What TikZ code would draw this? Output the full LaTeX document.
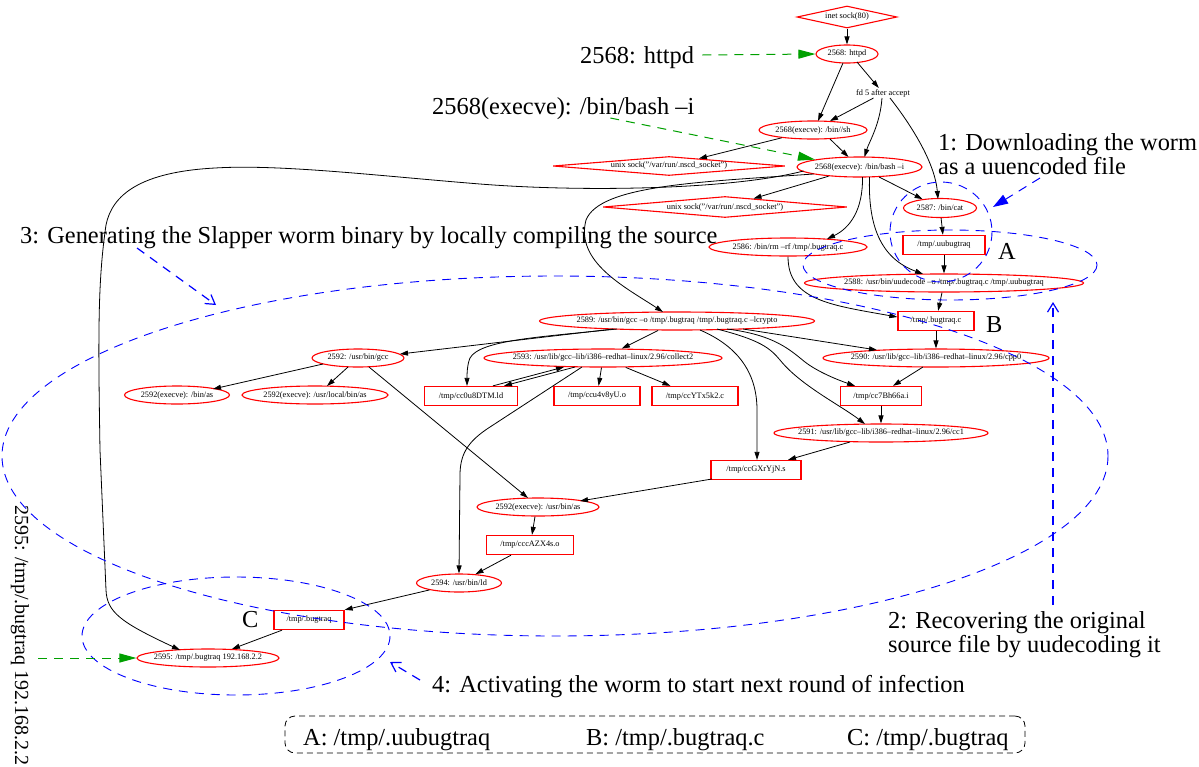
\documentclass[tikz,border=0pt]{standalone}
\usepackage{fontspec}
\setmainfont{Liberation Serif}
\usetikzlibrary{shapes.geometric,arrows.meta,calc}

\newcommand\procfont{\fontsize{8.3}{10}\selectfont}
\newcommand\notefont{\fontsize{24.4}{28}\selectfont}
\newcommand\rotfont{\fontsize{20}{24}\selectfont}
\newcommand\ctr[1]{\makebox[0pt]{#1}}

\definecolor{hintgreen}{RGB}{0,160,0}
\definecolor{markblue}{RGB}{0,0,255}

\tikzset{
  sz/.style 2 args={minimum width=#1pt, minimum height=#2pt},
  proc/.style={ellipse, draw=red, line width=1.1pt, inner sep=0pt, font=\procfont},
  file/.style={rectangle, draw=red, line width=1.3pt, inner sep=0pt, font=\procfont},
  sock/.style={diamond, draw=red, line width=1.1pt, inner sep=0pt, font=\procfont},
  edge/.style={draw=black, line width=0.8pt, -{Triangle[length=8pt,width=5pt]}},
  note/.style={font=\notefont, inner sep=0pt, anchor=base west},
  hint/.style={draw=hintgreen, line width=1pt, dash pattern=on 9pt off 7pt,
    -{Triangle[length=17pt,width=9pt]}},
  region/.style={draw=markblue, line width=0.9pt, dash pattern=on 9pt off 7pt},
  pointer/.style={draw=markblue, line width=1.2pt, dash pattern=on 9pt off 7pt,
    -{Straight Barb[length=9pt,width=11pt]}},
  pointerfull/.style={draw=markblue, line width=1pt, dash pattern=on 9pt off 7pt,
    -{Triangle[length=15pt,width=10pt]}},
}

\begin{document}
\begin{tikzpicture}[x=1pt,y=-1pt]
\useasboundingbox (0,0) rectangle (1199,766);

% ---------------- processes, files and sockets ----------------
\node[sock, sz={100}{22}] (inet) at (847,17) {\ctr{inet sock(80)}};
\node[proc, sz={62}{18}] (httpd) at (847,54) {\ctr{2568: httpd}};
\node[font=\procfont, inner sep=1pt] (fd5) at (883,93) {fd 5 after accept};
\node[proc, sz={108}{18}] (sh) at (813,130) {\ctr{2568(execve): /bin//sh}};
\node[sock, sz={232}{19}] (unixa) at (669,166) {\ctr{unix sock("/var/run/.nscd\_socket")}};
\node[proc, sz={125}{20}] (bash) at (859.5,167) {\ctr{2568(execve): /bin/bash –i}};
\node[sock, sz={244}{21}] (unixb) at (725,207) {\ctr{unix sock("/var/run/.nscd\_socket")}};
\node[proc, sz={73}{19}] (cat) at (940,208) {\ctr{2587: /bin/cat}};
\node[file, sz={82}{19}] (uubug) at (944,245) {\ctr{/tmp/.uubugtraq}};
\node[proc, sz={158}{18}] (rm) at (788,247) {\ctr{2586: /bin/rm –rf /tmp/.bugtraq.c}};
\node[proc, sz={279}{18}] (uud) at (944,283) {\ctr{2588: /usr/bin/uudecode –o /tmp/.bugtraq.c /tmp/.uubugtraq}};
\node[file, sz={76}{19}] (bugc) at (936,321) {\ctr{/tmp/.bugtraq.c}};
\node[proc, sz={275}{18}] (gcc89) at (677,321) {\ctr{2589: /usr/bin/gcc –o /tmp/.bugtraq /tmp/.bugtraq.c –lcrypto}};
\node[proc, sz={92}{18}] (gcc92) at (358,358) {\ctr{2592: /usr/bin/gcc}};
\node[proc, sz={238}{18}] (col) at (603,358) {\ctr{2593: /usr/lib/gcc–lib/i386–redhat–linux/2.96/collect2}};
\node[proc, sz={226}{18}] (cpp) at (936,358) {\ctr{2590: /usr/lib/gcc–lib/i386–redhat–linux/2.96/cpp0}};
\node[proc, sz={105}{18}] (binas) at (177,395) {\ctr{2592(execve): /bin/as}};
\node[proc, sz={146}{18}] (localas) at (315,395) {\ctr{2592(execve): /usr/local/bin/as}};
\node[file, sz={93}{19}] (ccld) at (471,396) {\ctr{/tmp/cc0u8DTM.ld}};
\node[file, sz={86}{19}] (ccuo) at (597,396) {\ctr{/tmp/ccu4v8yU.o}};
\node[file, sz={86}{19}] (ccyc) at (695,396) {\ctr{/tmp/ccYTx5k2.c}};
\node[file, sz={81}{19}] (cci) at (881,396) {\ctr{/tmp/cc7Bh66a.i}};
\node[proc, sz={214}{18}] (cc1) at (881,433) {\ctr{2591: /usr/lib/gcc–lib/i386–redhat–linux/2.96/cc1}};
\node[file, sz={90}{19}] (ccs) at (756,470) {\ctr{/tmp/ccGXrYjN.s}};
\node[proc, sz={122}{18}] (usras) at (538,507) {\ctr{2592(execve): /usr/bin/as}};
\node[file, sz={87}{19}] (cco) at (530,545) {\ctr{/tmp/cccAZX4s.o}};
\node[proc, sz={85}{18}] (ld) at (459,583) {\ctr{2594: /usr/bin/ld}};
\node[file, sz={70}{19}] (bug) at (309,620) {\ctr{/tmp/.bugtraq}};
\node[proc, sz={142}{18}] (worm) at (208,658) {\ctr{2595: /tmp/.bugtraq 192.168.2.2}};

% ---------------- data and control flow ----------------
\draw[edge] (inet) -- (httpd);
\draw[edge] ([shift={(-4,9)}]httpd.center) -- ([shift={(5,-9)}]sh.center);
\draw[edge] ([shift={(10,8)}]httpd.center) -- (fd5);
\draw[edge] (fd5) -- ([shift={(17,-9)}]sh.center);
\draw[edge] ([shift={(-1,0)}]fd5.south) .. controls (880,125) and (869,142) .. ([shift={(5,-10)}]bash.center);
\draw[edge] ([shift={(7,0)}]fd5.south) .. controls (915,130) and (935,165) .. ([shift={(-2,-9)}]cat.center);
\draw[edge] (sh) -- (unixa);
\draw[edge] ([shift={(17,9)}]sh.center) -- ([shift={(-11,-10)}]bash.center);
\draw[edge] (bash) -- (unixb);
\draw[edge] (bash) -- (cat);
\draw[edge] ([shift={(3,10)}]bash.center) .. controls (863,210) and (850,228) .. ([shift={(39,-8)}]rm.center);
\draw[edge] ([shift={(10,10)}]bash.center) .. controls (868,225) and (880,258) .. ([shift={(-21,-9)}]uud.center);
\draw[edge] ([shift={(-46,7)}]bash.center) .. controls (700,182) and (600,185) .. (586,220)
  .. controls (575,262) and (625,287) .. ([shift={(-14,-9)}]gcc89.center);
\draw[edge] ([shift={(-56,4)}]bash.center) .. controls (730,190) and (580,192) .. (480,184)
  .. controls (380,176) and (280,164) .. (215,168)
  .. controls (140,172) and (112,195) .. (106,225)
  .. controls (98,280) and (98,330) .. (100,450) -- (106,590)
  .. controls (107,612) and (120,622) .. ([shift={(-28,-8)}]worm.center);
\draw[edge] (cat) -- (uubug);
\draw[edge] (uubug) -- (uud);
\draw[edge] (uud) -- (bugc);
\draw[edge] (rm.south) .. controls (788,300) and (830,305) .. ([shift={(0,-4)}]bugc.west);
\draw[edge] (bugc) -- (cpp);
\draw[edge] ([shift={(-64,8)}]gcc89.center) -- ([shift={(42,-4)}]gcc92.center);
\draw[edge] ([shift={(-60,8)}]gcc89.center) .. controls (540,337) and (480,340) .. (470,358)
  .. controls (467,365) and (467,375) .. ([shift={(-4,0)}]ccld.north);
\draw[edge] (gcc89) -- (col);
\draw[edge] ([shift={(66,8)}]gcc89.center) -- ([shift={(-59,-8)}]cpp.center);
\draw[edge] ([shift={(50,8)}]gcc89.center) .. controls (775,335) and (790,350) .. (805,362)
  .. controls (818,372) and (838,380) .. ([shift={(-26,0)}]cci.north);
\draw[edge] ([shift={(40,8)}]gcc89.center) .. controls (760,340) and (770,348) .. (780,360)
  .. controls (800,385) and (840,405) .. ([shift={(-16,-9)}]cc1.center);
\draw[edge] ([shift={(23,9)}]gcc89.center) .. controls (735,345) and (757,370) .. (757,410)
  -- ([shift={(1,0)}]ccs.north);
\draw[edge] ([shift={(-35,6)}]gcc92.center) -- ([shift={(36,-6)}]binas.center);
\draw[edge] ([shift={(-10,9)}]gcc92.center) -- ([shift={(12,-9)}]localas.center);
\draw[edge] ([shift={(11,9)}]gcc92.center) -- ([shift={(-10,-9)}]usras.center);
\draw[edge] ([shift={(-28,9)}]col.center) -- ([shift={(33,0)}]ccld.north);
\draw[edge] ([shift={(22,0)}]ccld.north) -- ([shift={(-39,9)}]col.center);
\draw[edge] (col) -- (ccuo);
\draw[edge] (col) -- (ccyc);
\draw[edge] ([shift={(-21,9)}]col.center) -- (490,427) .. controls (470,440) and (460,452) .. (460,475)
  -- (ld.north);
\draw[edge] ([shift={(-13,9)}]cpp.center) -- ([shift={(12,0)}]cci.north);
\draw[edge] (cci) -- (cc1);
\draw[edge] ([shift={(-31,9)}]cc1.center) -- ([shift={(32,0)}]ccs.north);
\draw[edge] ([shift={(-44,9)}]ccs.center) -- ([shift={(42,-6)}]usras.center);
\draw[edge] ([shift={(-3,0)}]usras.south) -- ([shift={(2,0)}]cco.north);
\draw[edge] (cco) -- (ld);
\draw[edge] (ld) -- (bug.north east);
\draw[edge] (bug) -- (worm);

% ---------------- stage regions ----------------
\draw[region] (941,232) ellipse [x radius=51, y radius=50];
\draw[region] (950,265) ellipse [x radius=147, y radius=35];
\draw[region] (555,456) ellipse [x radius=553, y radius=180];
\draw[region] (236,636) ellipse [x radius=154, y radius=59];

% ---------------- annotations ----------------
\node[note] (lhttpd) at (580,63) {2568: httpd};
\node[note] (lbash) at (432,114) {2568(execve): /bin/bash –i};
\node[note] (s1a) at (938,150) {1: Downloading the worm};
\node[note] (s1b) at (938,174) {as a uuencoded file};
\node[note] (s3) at (20,243) {3: Generating the Slapper worm binary by locally compiling the source};
\node[note] (ma) at (998,259) {A};
\node[note] (mb) at (986,332) {B};
\node[note] (mc) at (242,627) {C};
\node[note] (s2a) at (888,628) {2: Recovering the original};
\node[note] (s2b) at (888,652) {source file by uudecoding it};
\node[note] (s4) at (432,692) {4: Activating the worm to start next round of infection};
\node[font=\rotfont, rotate=-90, anchor=west, inner sep=0pt] (l95) at (20,505) {2595: /tmp/.bugtraq 192.168.2.2};

\draw[hint] ([shift={(8,-8)}]lhttpd.base east) -- (httpd.west);
\draw[hint] ([shift={(47,4)}]lbash.base) -- (bash.north west);
\coordinate (g95) at (38,658);
\draw[hint] (g95) -- (worm.west);

\coordinate (p1s) at (1040,178);
\coordinate (p1e) at (993,207);
\draw[pointerfull] (p1s) -- (p1e);
\coordinate (p2s) at (1053,605);
\coordinate (p2e) at (1053,302);
\draw[pointer] (p2s) -- (p2e);
\coordinate (p3s) at (137,248);
\coordinate (p3e) at (216,305);
\draw[pointer] (p3s) -- (p3e);
\coordinate (p4s) at (420,680);
\coordinate (p4e) at (390,662);
\draw[pointer] (p4s) -- (p4e);

% ---------------- legend ----------------
\node[draw=black, line width=0.8pt, dash pattern=on 6pt off 4pt, rounded corners=10pt,
  sz={740}{37}] (legend) at (655,734.5) {};
\node[note] (la) at (303,745) {A: /tmp/.uubugtraq};
\node[note] (lb) at (586,745) {B: /tmp/.bugtraq.c};
\node[note] (lc) at (847,745) {C: /tmp/.bugtraq};
\end{tikzpicture}
\end{document}
